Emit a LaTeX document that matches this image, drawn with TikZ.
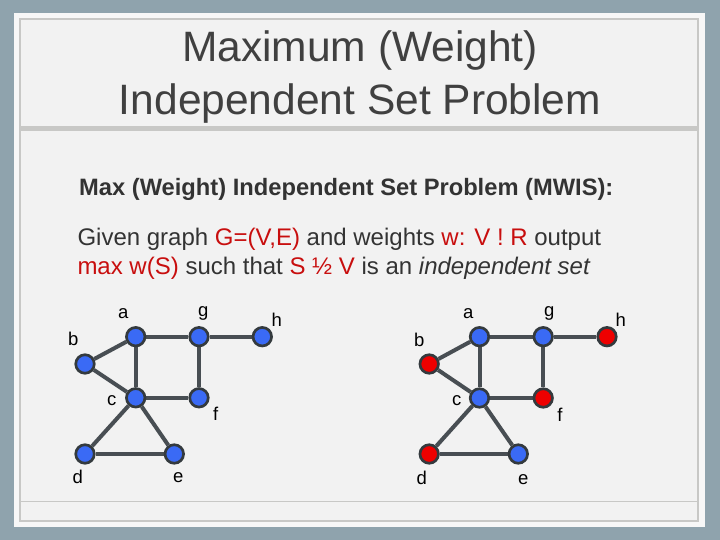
\documentclass[tikz,border=0pt]{standalone}
\usepackage{fontspec}
\setmainfont{Liberation Sans}
\definecolor{bgc}{RGB}{143,163,173}
\definecolor{panelout}{RGB}{247,247,247}
\definecolor{panelin}{RGB}{242,242,242}
\definecolor{bordc}{RGB}{200,200,198}
\definecolor{titlec}{RGB}{64,64,64}
\definecolor{textc}{RGB}{51,51,51}
\definecolor{redtext}{RGB}{200,14,14}
\definecolor{nodeblue}{RGB}{58,106,245}
\definecolor{nodered}{RGB}{238,0,0}
\definecolor{nodeborder}{RGB}{52,58,62}
\definecolor{edgec}{RGB}{72,78,83}
\pgfdeclarelayer{bglayer}
\pgfdeclarelayer{edgelayer}
\pgfsetlayers{bglayer,edgelayer,main}
\tikzset{
  vtx/.style={circle, minimum size=18.5pt, inner sep=0pt, line width=2.7pt, draw=nodeborder, fill=nodeblue},
  redvtx/.style={vtx, fill=nodered},
  edgeline/.style={line width=4pt, draw=edgec},
  lbl/.style={inner sep=0pt, text=black, font=\fontsize{18.5}{22}\selectfont},
  titletext/.style={anchor=base, inner sep=0pt, text=titlec, font=\fontsize{42.5}{53}\selectfont},
  bodytext/.style={anchor=base west, inner sep=0pt, text=textc, font=\fontsize{24}{29}\selectfont}
}
\newcommand{\rd}[1]{\textcolor{redtext}{#1}}
\begin{document}
\begin{tikzpicture}[x=1pt,y=-1pt]
\useasboundingbox (0,0) rectangle (720,540);
\begin{pgfonlayer}{bglayer}
\fill[bgc] (0,0) rectangle (720,540);
\fill[panelout] (14,12.7) rectangle (705.3,527.3);
\draw[line width=2pt, bordc, fill=panelin] (20,19) rectangle (698,521);
\fill[bordc] (20,125.7) rectangle (698,130.7);
\draw[line width=1.5pt, bordc] (20,501.5) -- (698,501.5);
\end{pgfonlayer}

% title
\node[titletext] (t1) at (360,62) {Maximum (Weight)};
\node[titletext] (t2) at (360,115) {Independent Set Problem};

% body text
\node[bodytext, font=\fontsize{23.7}{29}\selectfont\bfseries] (l1) at (79,195.5) {Max (Weight) Independent Set Problem (MWIS):};
\node[bodytext] (l2) at (77.3,245) {Given graph \rd{G=(V,E)} and weights \rd{w: V ! R} output};
\node[bodytext] (l3) at (77.3,274) {\rd{max w(S)} such that \rd{S ½ V} is an \textit{independent set}};

% left graph
\node[vtx] (la) at (135.7,336.7) {};
\node[vtx] (lg) at (199,336.7) {};
\node[vtx] (lh) at (262.3,336.7) {};
\node[vtx] (lb) at (85,364) {};
\node[vtx] (lc) at (135.7,397.8) {};
\node[vtx] (lf) at (199,397.8) {};
\node[vtx] (ld) at (85,454) {};
\node[vtx] (le) at (174.3,454) {};
\begin{pgfonlayer}{edgelayer}
\draw[edgeline] (la) -- (lg);
\draw[edgeline] (lg) -- (lh);
\draw[edgeline] (la) -- (lb);
\draw[edgeline] (lb) -- (lc);
\draw[edgeline] (la) -- (lc);
\draw[edgeline] (lg) -- (lf);
\draw[edgeline] (lc) -- (lf);
\draw[edgeline] (lc) -- (ld);
\draw[edgeline] (lc) -- (le);
\draw[edgeline] (ld) -- (le);
\end{pgfonlayer}
\node[lbl] (lla) at (123.3,313.3) {a};
\node[lbl] (llg) at (203.3,313.3) {g};
\node[lbl] (llh) at (276.7,319.3) {h};
\node[lbl] (llb) at (73.3,339.3) {b};
\node[lbl] (llc) at (111.7,400.7) {c};
\node[lbl] (llf) at (215.7,414) {f};
\node[lbl] (lld) at (77.7,477.3) {d};
\node[lbl] (lle) at (178.3,477.3) {e};

% right graph
\node[vtx] (ra) at (479.5,336.7) {};
\node[vtx] (rg) at (543.2,336.7) {};
\node[redvtx] (rh) at (607,336.7) {};
\node[redvtx] (rb) at (429.2,364) {};
\node[vtx] (rc) at (479.5,398) {};
\node[redvtx] (rf) at (543.2,398) {};
\node[redvtx] (rd) at (429.2,454) {};
\node[vtx] (re) at (518.3,454) {};
\begin{pgfonlayer}{edgelayer}
\draw[edgeline] (ra) -- (rg);
\draw[edgeline] (rg) -- (rh);
\draw[edgeline] (ra) -- (rb);
\draw[edgeline] (rb) -- (rc);
\draw[edgeline] (ra) -- (rc);
\draw[edgeline] (rg) -- (rf);
\draw[edgeline] (rc) -- (rf);
\draw[edgeline] (rc) -- (rd);
\draw[edgeline] (rc) -- (re);
\draw[edgeline] (rd) -- (re);
\end{pgfonlayer}
\node[lbl] (rla) at (468.3,313.3) {a};
\node[lbl] (rlg) at (549.3,313.3) {g};
\node[lbl] (rlh) at (620.7,320) {h};
\node[lbl] (rlb) at (419.3,340) {b};
\node[lbl] (rlc) at (456.7,400.7) {c};
\node[lbl] (rlf) at (560,415) {f};
\node[lbl] (rld) at (421.7,478.3) {d};
\node[lbl] (rle) at (523.3,479.3) {e};
\end{tikzpicture}
\end{document}
